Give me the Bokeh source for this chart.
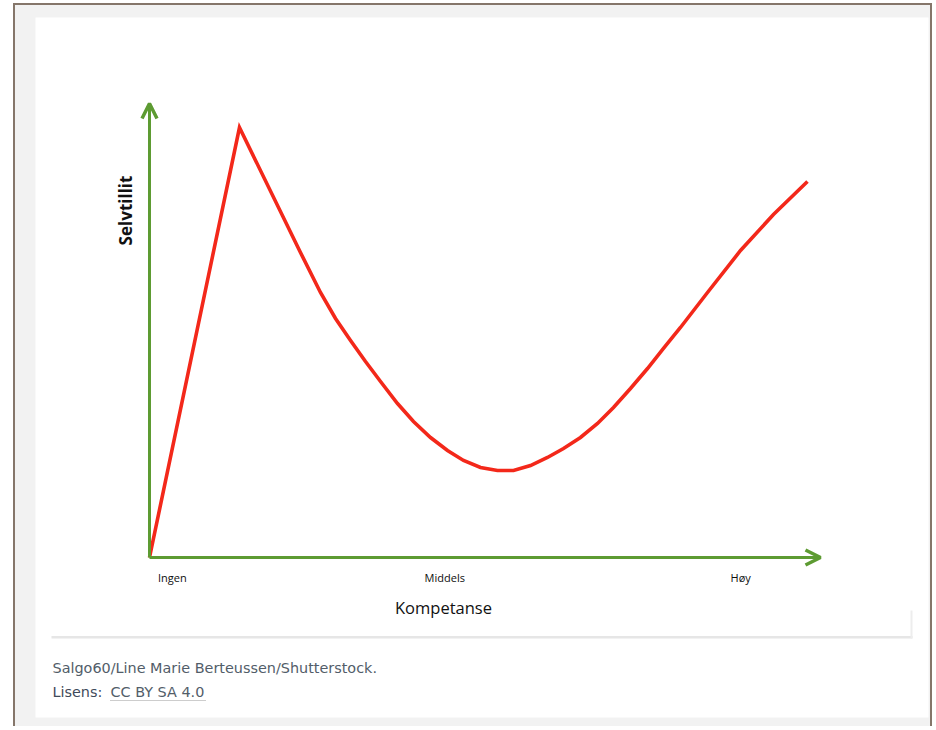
from bokeh.plotting import figure
from bokeh.models import Range1d, Arrow, OpenHead
from bokeh.core.properties import value
from bokeh.embed import file_html
from bokeh.resources import INLINE

# ---- data (both axes run 0..100) ----
kompetanse = [0, 13.41, 22.50, 25.48, 27.72, 29.96, 32.19, 34.43, 36.96, 39.34, 41.88,
              44.41, 46.80, 49.33, 51.86, 54.25, 56.78, 59.31, 61.70, 64.23, 66.77,
              69.15, 71.68, 74.22, 76.60, 79.13, 83.16, 88.08, 92.99, 98.06]
selvtillit = [0, 94.71, 67.18, 58.37, 52.64, 47.80, 43.17, 38.77, 33.92, 29.96, 26.43,
              23.57, 21.37, 19.82, 19.16, 19.16, 20.26, 22.03, 24.01, 26.43, 29.52,
              33.04, 37.22, 41.63, 46.04, 50.66, 58.37, 67.62, 75.55, 82.82]
tick_pos = [3.4, 44.0, 88.1]
tick_labels = ["Ingen", "Middels", "Høy"]
x_title = "Kompetanse"
y_title = "Selvtillit"
caption_1 = "Salgo60/Line Marie Berteussen/Shutterstock."
caption_2a = "Lisens: "
caption_2b = "CC BY SA 4.0"

# ---- layout ----
W, H = 932, 726
X0_PX, X100_PX = 149, 820      # canvas px of x=0 and x=100
Y0_PX, Y100_PX = 557, 103      # canvas px (from top) of y=0 and y=100
sx = (X100_PX - X0_PX) / 100.0
sy = (Y0_PX - Y100_PX) / 100.0

p = figure(width=W, height=H, output_backend="svg", toolbar_location=None,
           x_axis_type=None, y_axis_type=None,
           x_range=Range1d(-X0_PX / sx, (W - X0_PX) / sx),
           y_range=Range1d(-(H - Y0_PX) / sy, Y0_PX / sy),
           min_border=0, min_border_left=0, min_border_right=0,
           min_border_top=0, min_border_bottom=0)
p.outline_line_color = None
p.background_fill_color = "white"
p.border_fill_color = "white"
p.xgrid.visible = False
p.ygrid.visible = False

p.extra_x_ranges = {"px": Range1d(0, W)}
p.extra_y_ranges = {"px": Range1d(H, 0)}
PX = dict(x_range_name="px", y_range_name="px")

# page frame: brown border, grey band, white panel
p.quad(left=12.5, right=931.5, top=2.5, bottom=H, fill_color="#85766a", line_color=None, **PX)
p.quad(left=14.5, right=929.5, top=4.5, bottom=H, fill_color="#f2f2f2", line_color=None, **PX)
p.quad(left=35, right=928, top=17, bottom=717, fill_color="#ffffff", line_color=None, **PX)
# image box edge
p.quad(left=51, right=912, top=635.5, bottom=638, fill_color="#e6e6e6", line_color=None, **PX)
p.quad(left=910, right=912, top=610, bottom=638, fill_color="#ededed", line_color=None, **PX)

# axes as arrows
green = "#5d9b32"
p.add_layout(Arrow(x_start=0, y_start=0, x_end=100, y_end=0, line_color=green, line_width=3,
                   end=OpenHead(size=15, line_color=green, line_width=3.5)))
p.add_layout(Arrow(x_start=0, y_start=0, x_end=0, y_end=100, line_color=green, line_width=3,
                   end=OpenHead(size=15, line_color=green, line_width=3.5)))

# curve
p.line(kompetanse, selvtillit, line_color="#f3281a", line_width=3.6, line_join="miter")

# tick labels
p.text(x=tick_pos, y=[-4.4] * len(tick_pos), text=tick_labels,
       text_font=value("Open Sans"), text_font_size="11px", text_color="#0e0e0e",
       text_align="center", text_baseline="middle", text_font_style="normal")

# axis titles
p.text(x=[443], y=[607], text=[x_title], text_font=value("Open Sans"),
       text_font_size="16.5px", text_color="#111111", text_align="center",
       text_baseline="middle", **PX)
p.text(x=[125], y=[210], text=[y_title], text_font=value("Open Sans"),
       text_font_size="17px", text_font_style="bold", text_color="#111111",
       text_align="center", text_baseline="middle", angle=1.5708, **PX)

# caption
p.text(x=[52], y=[667], text=[caption_1], text_font=value("DejaVu Sans"),
       text_font_size="14.4px", text_color="#525d69", text_align="left",
       text_baseline="middle", **PX)
p.text(x=[52], y=[691], text=[caption_2a], text_font=value("DejaVu Sans"),
       text_font_size="14.4px", text_color="#3f4a5a", text_align="left",
       text_baseline="middle", **PX)
p.text(x=[110], y=[691], text=[caption_2b], text_font=value("DejaVu Sans"),
       text_font_size="14.4px", text_color="#525d69", text_align="left",
       text_baseline="middle", **PX)
p.line(x=[110, 205], y=[700, 700], line_color="#9a9a9a", line_width=1,
       line_dash="1 1", **PX)

open("out.html", "w").write(file_html(p, INLINE))
